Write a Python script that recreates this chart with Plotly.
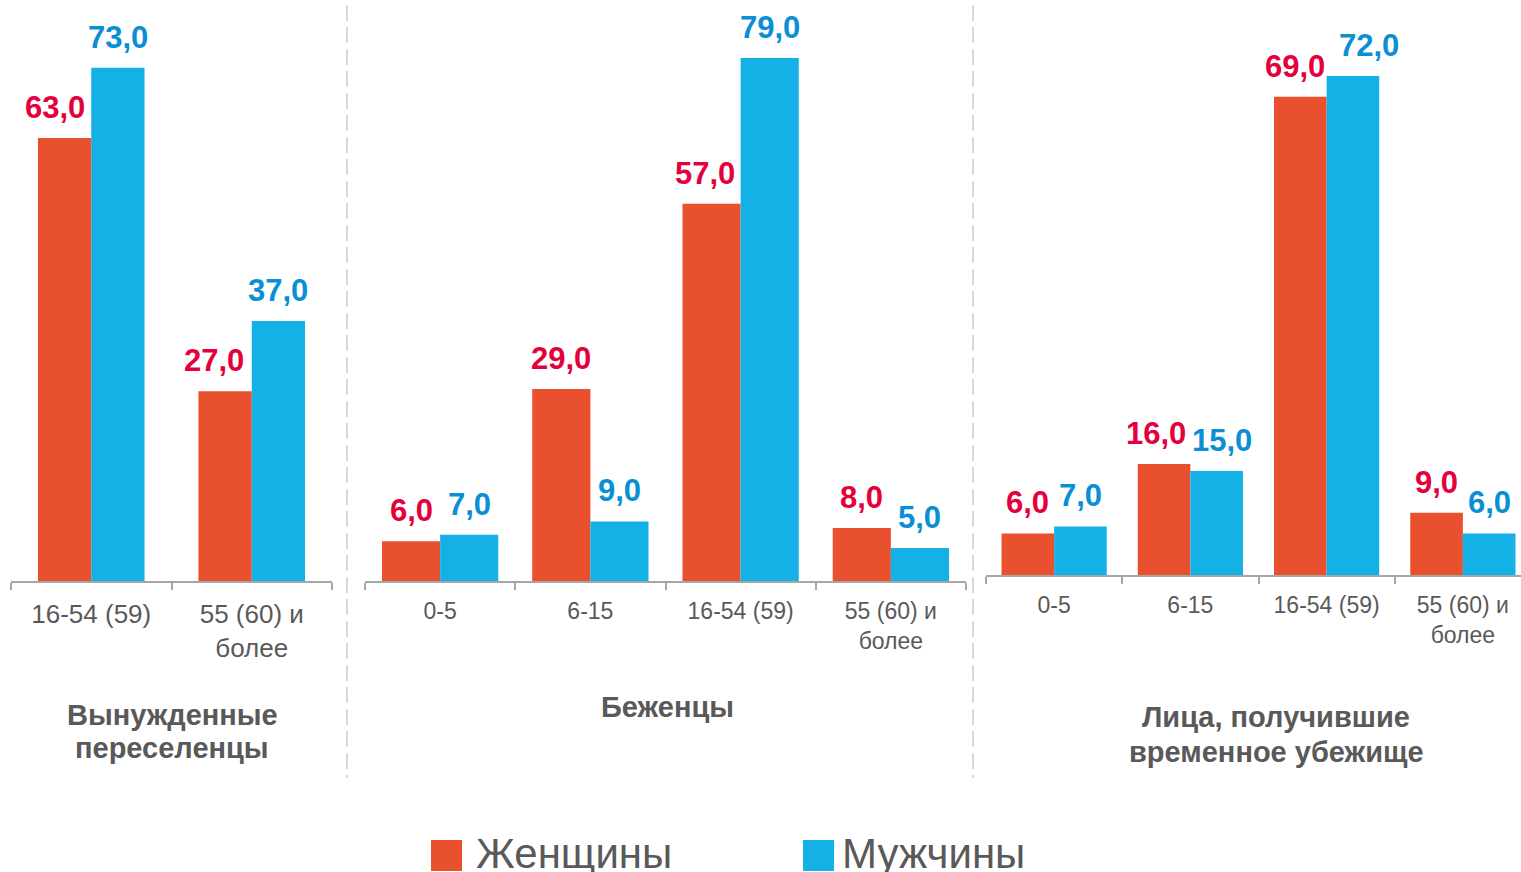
import plotly.graph_objects as go

# ---------------- data ----------------
cats_vp = ["16-54 (59)", "55 (60) и<br>более"]
women_vp = [63, 27]
men_vp = [73, 37]

cats_bz = ["0-5", "6-15", "16-54 (59)", "55 (60) и<br>более"]
women_bz = [6, 29, 57, 8]
men_bz = [7, 9, 79, 5]

cats_vu = ["0-5", "6-15", "16-54 (59)", "55 (60) и<br>более"]
women_vu = [6, 16, 69, 9]
men_vu = [7, 15, 72, 6]

panel_titles = ["Вынужденные<br>переселенцы", "Беженцы", "Лица, получившие<br>временное убежище"]
series_names = ["Женщины", "Мужчины"]

# ---------------- style ----------------
W, H = 1521, 872
RED, BLUE = "#E8502E", "#14B1E7"
RED_T, BLUE_T = "#E4003B", "#0A8FD4"
GREY = "#595959"
AXC = "#A6A6A6"
FONT = "Arial, Liberation Sans, sans-serif"


def px(x):
    return x / W


def py(y):
    return 1 - y / H


# panel geometry in pixels
panels = [
    dict(x0=11, x1=332, base=581, scale=7.03, cw=160.5, bw=0.332, tf=26,
         cats=cats_vp, w=women_vp, m=men_vp, nudge_w=[-10, -11], nudge_m=[0, 0]),
    dict(x0=365, x1=966, base=581, scale=6.62, cw=150.25, bw=0.387, tf=23,
         cats=cats_bz, w=women_bz, m=men_bz, nudge_w=[0, 0, -7, 0], nudge_m=[0, 0, 0, 0]),
    dict(x0=986, x1=1521, base=575, scale=6.93, cw=136.25, bw=0.386, tf=23,
         cats=cats_vu, w=women_vu, m=men_vu, nudge_w=[0, -8, -5, 0], nudge_m=[0, 5, 16, 0]),
]

fig = go.Figure()
layout_axes = {}
annotations = []
for i, p in enumerate(panels, start=1):
    xa = "x" if i == 1 else f"x{i}"
    ya = "y" if i == 1 else f"y{i}"
    half_px = p["bw"] * p["cw"] / 2
    for vals, col, tcol, off, nm, sgn, nud in [
        (p["w"], RED, RED_T, -p["bw"], series_names[0], -1, p["nudge_w"]),
        (p["m"], BLUE, BLUE_T, 0, series_names[1], 1, p["nudge_m"]),
    ]:
        fig.add_trace(go.Bar(
            x=p["cats"], y=vals, name=nm, showlegend=False,
            marker=dict(color=col, line=dict(width=0)),
            width=p["bw"], offset=off, xaxis=xa, yaxis=ya,
        ))
        for c, v, n in zip(p["cats"], vals, nud):
            annotations.append(dict(
                x=c, y=v, xref=xa, yref=ya, text=f"{v:.1f}".replace(".", ","),
                showarrow=False, xanchor="center", yanchor="bottom",
                xshift=sgn * half_px + n, yshift=11,
                font=dict(family=FONT, size=31, color=tcol, weight="bold"),
            ))
    top = 20
    ymax = (p["base"] - top) / p["scale"]
    xr_max = -0.5 + (p["x1"] - p["x0"]) / p["cw"]
    layout_axes["xaxis" if i == 1 else f"xaxis{i}"] = dict(
        domain=[px(p["x0"]), px(p["x1"])], anchor=ya,
        type="category", range=[-0.5, xr_max],
        showline=True, linecolor=AXC, linewidth=1.5,
        ticks="outside", tickson="boundaries", ticklen=7, tickcolor=AXC, tickwidth=1.5,
        ticklabelstandoff=9,
        tickfont=dict(family=FONT, size=p["tf"], color=GREY),
        showgrid=False, zeroline=False, fixedrange=True,
    )
    layout_axes["yaxis" if i == 1 else f"yaxis{i}"] = dict(
        domain=[py(p["base"]), py(top)], anchor=xa,
        range=[0, ymax], visible=False, showgrid=False, zeroline=False, fixedrange=True,
    )

# panel titles (one annotation per line for tighter line spacing)
title_pos = [(172, [715, 748]), (667, [707]), (1276, [717, 752])]
for (tx, ys), t in zip(title_pos, panel_titles):
    for ty, line in zip(ys, t.split("<br>")):
        annotations.append(dict(
            x=px(tx), y=py(ty), xref="paper", yref="paper", text=line, showarrow=False,
            xanchor="center", yanchor="middle", align="center",
            font=dict(family=FONT, size=29, color=GREY, weight="bold"),
        ))

shapes = []
# dashed separators
for sx in [347, 973]:
    shapes.append(dict(type="line", xref="paper", yref="paper",
                       x0=px(sx), x1=px(sx), y0=py(5), y1=py(778),
                       line=dict(color="#D9D9D9", width=2, dash="16px,6px")))

# legend (drawn)
for (sx0, sx1, tx), col, nm in zip([(431, 462, 474), (803, 834, 840)], [RED, BLUE], series_names):
    shapes.append(dict(type="rect", xref="paper", yref="paper",
                       x0=px(sx0), x1=px(sx1), y0=py(871), y1=py(840),
                       fillcolor=col, line=dict(width=0)))
    annotations.append(dict(
        x=px(tx), y=py(853), xref="paper", yref="paper", text=nm, showarrow=False,
        xanchor="left", yanchor="middle",
        font=dict(family=FONT, size=42, color=GREY),
    ))

fig.update_layout(
    width=W, height=H, autosize=False,
    margin=dict(l=0, r=0, t=0, b=0),
    paper_bgcolor="white", plot_bgcolor="white",
    barmode="overlay", separators=", ",
    showlegend=False,
    annotations=annotations, shapes=shapes,
    **layout_axes,
)

fig.write_html("out.html", config={"displayModeBar": False},
               post_script="document.body.style.margin='0';document.body.style.overflow='hidden';")
